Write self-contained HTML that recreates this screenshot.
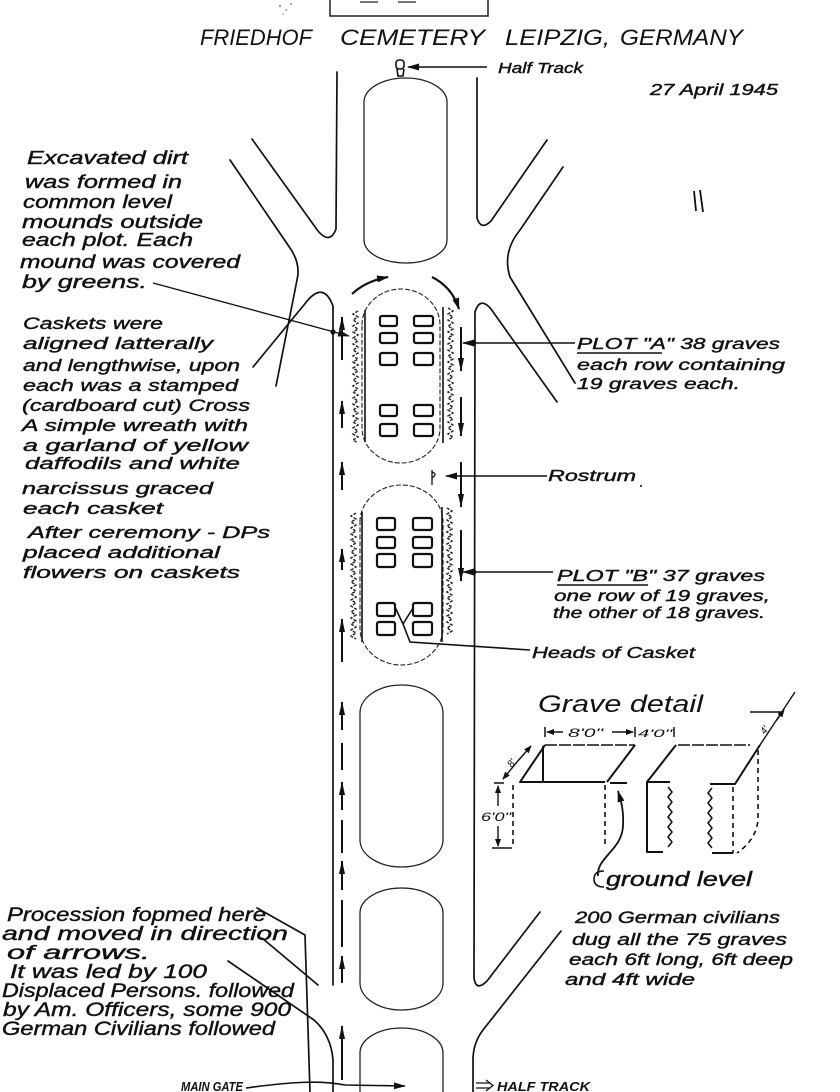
<!DOCTYPE html>
<html><head><meta charset="utf-8"><style>
html,body{margin:0;padding:0;background:#fff;}
svg{display:block;}
text{font-family:"Liberation Sans",sans-serif;font-style:italic;fill:#111;}
.w{stroke:#111;stroke-width:0.4;}
</style></head><body>
<svg xmlns="http://www.w3.org/2000/svg" width="840" height="1092" viewBox="0 0 840 1092">
<defs>
<marker id="ah" viewBox="0 0 12 8" refX="11" refY="4" markerWidth="12" markerHeight="8" markerUnits="userSpaceOnUse" orient="auto"><path d="M0,0.5 L12,4 L0,7.5 z" fill="#111"/></marker>
<marker id="an" viewBox="0 0 14 6" refX="13" refY="3" markerWidth="14" markerHeight="6" markerUnits="userSpaceOnUse" orient="auto"><path d="M0,0 L14,3 L0,6 z" fill="#111"/></marker>
<marker id="as" viewBox="0 0 8 6" refX="7" refY="3" markerWidth="8" markerHeight="6" markerUnits="userSpaceOnUse" orient="auto"><path d="M0,0 L8,3 L0,6 z" fill="#111"/></marker>
</defs>
<rect width="840" height="1092" fill="#fff"/>

<!-- top box -->
<g fill="none" stroke="#222" stroke-width="1.5">
<path d="M330 0 L330 16 L488 16 L488 0"/>
<path d="M360 2 L378 2 M398 2 L416 2" stroke-width="1.2"/>
</g>
<g fill="#999"><circle cx="280" cy="6" r="1.2"/><circle cx="286" cy="10" r="1"/><circle cx="291" cy="4" r="1"/><circle cx="283" cy="14" r="0.8"/></g>

<!-- title -->
<text x="200" y="45" font-size="22" textLength="112" lengthAdjust="spacingAndGlyphs">FRIEDHOF</text>
<text x="340" y="45" font-size="22" textLength="145" lengthAdjust="spacingAndGlyphs">CEMETERY</text>
<text x="505" y="45" font-size="22" textLength="105" lengthAdjust="spacingAndGlyphs">LEIPZIG,</text>
<text x="620" y="45" font-size="22" textLength="123" lengthAdjust="spacingAndGlyphs">GERMANY</text>

<!-- half track -->
<g fill="none" stroke="#111" stroke-width="1.6">
<rect x="396" y="60" width="8" height="9" rx="3"/>
<path d="M397 69 L398 76 L403 76 L404 69"/>
<path d="M487 67 L408 67" marker-end="url(#ah)"/>
</g>
<text class="w" x="498" y="73" font-size="15" textLength="85" lengthAdjust="spacingAndGlyphs">Half Track</text>
<text class="w" x="650" y="95" font-size="16" textLength="128" lengthAdjust="spacingAndGlyphs">27 April 1945</text>
<path d="M694 191 L696 211 M700 190 L703 212" stroke="#111" stroke-width="1.8" fill="none"/>

<!-- roads -->
<g fill="none" stroke="#111" stroke-width="1.7" stroke-linecap="round" stroke-linejoin="round">
<path d="M252 139 L318 231 Q330 245 336 229 L337 72"/>
<path d="M477 78 L477 218 Q481 231 491 221 L547 140"/>
<path d="M230 160 L290 248 Q301 264 297 280 L276 386"/>
<path d="M253 367 L308 300 Q324 282 333 306 L333 985"/>
<path d="M563 167 L520 230 Q502 252 510 277 L575 383"/>
<path d="M557 402 L491 309 Q480 296 475 312 L474 978 Q476 992 487 981 L540 912"/>
<path d="M561 931 L483 1030 Q473 1043 473 1060 L473 1092"/>
<path d="M262 938 L318 985"/>
<path d="M228 961 L314 1020 Q331 1035 333 1060 L333 1092"/>
<path d="M257 908 L305 935 L310 1092"/>
</g>

<!-- ovals -->
<g fill="none" stroke="#222" stroke-width="1.3">
<path d="M364 102 A41.5 24 0 0 1 447 102 L447 240 A41.5 23 0 0 1 364 240 Z"/>
<path d="M360 713 A41.5 28 0 0 1 443 713 L443 840 A41.5 27 0 0 1 360 840 Z"/>
<path d="M360 913 A41.5 25 0 0 1 443 913 L443 983 A41.5 27 0 0 1 360 983 Z"/>
<path d="M360 1092 L360 1053 A41.5 25 0 0 1 443 1053 L443 1092"/>
<path d="M362 325 A39 36 0 0 1 440 325 L440 428 A39 35 0 0 1 362 428 Z" stroke-dasharray="5 2" stroke-width="1.1"/>
<path d="M360 522 A41.5 37 0 0 1 443 522 L443 628 A41.5 37 0 0 1 360 628 Z" stroke-dasharray="5 2" stroke-width="1.1"/>
</g>

<!-- mounds -->
<g fill="none" stroke="#111" stroke-width="1.6">
<path d="M365 310 L365 442 M443 307 L443 443 M362 512 L362 642 M442 507 L442 642"/>
</g>
<g fill="none" stroke="#222" stroke-width="1.4" stroke-dasharray="3 1.5">
<path d="M358 311 l-5 3 5 3 -5 3 5 3 -5 3 5 3 -5 3 5 3 -5 3 5 3 -5 3 5 3 -5 3 5 3 -5 3 5 3 -5 3 5 3 -5 3 5 3 -5 3 5 3 -5 3 5 3 -5 3 5 3 -5 3 5 3 -5 3 5 3 -5 3 5 3 -5 3 5 3 -5 3 5 3 -5 3 5 3 -5 3 5 3 -5 3 5 3 -5 3 5 3"/>
<path d="M448 308 l5 3 -5 3 5 3 -5 3 5 3 -5 3 5 3 -5 3 5 3 -5 3 5 3 -5 3 5 3 -5 3 5 3 -5 3 5 3 -5 3 5 3 -5 3 5 3 -5 3 5 3 -5 3 5 3 -5 3 5 3 -5 3 5 3 -5 3 5 3 -5 3 5 3 -5 3 5 3 -5 3 5 3 -5 3 5 3 -5 3 5 3 -5 3 5 3 -5 3"/>
<path d="M356 513 l-5 3 5 3 -5 3 5 3 -5 3 5 3 -5 3 5 3 -5 3 5 3 -5 3 5 3 -5 3 5 3 -5 3 5 3 -5 3 5 3 -5 3 5 3 -5 3 5 3 -5 3 5 3 -5 3 5 3 -5 3 5 3 -5 3 5 3 -5 3 5 3 -5 3 5 3 -5 3 5 3 -5 3 5 3 -5 3 5 3 -5 3 5 3"/>
<path d="M447 508 l5 3 -5 3 5 3 -5 3 5 3 -5 3 5 3 -5 3 5 3 -5 3 5 3 -5 3 5 3 -5 3 5 3 -5 3 5 3 -5 3 5 3 -5 3 5 3 -5 3 5 3 -5 3 5 3 -5 3 5 3 -5 3 5 3 -5 3 5 3 -5 3 5 3 -5 3 5 3 -5 3 5 3 -5 3 5 3 -5 3 5 3 -5 3"/>
</g>

<!-- graves -->
<g fill="none" stroke="#111" stroke-width="2.2">
<rect x="380" y="316" width="17" height="10" rx="2"/><rect x="414" y="316" width="19" height="10" rx="2"/>
<rect x="380" y="333" width="17" height="10" rx="2"/><rect x="414" y="333" width="19" height="10" rx="2"/>
<rect x="380" y="353" width="17" height="12" rx="2"/><rect x="414" y="353" width="19" height="12" rx="2"/>
<rect x="380" y="405" width="17" height="11" rx="2"/><rect x="414" y="405" width="19" height="11" rx="2"/>
<rect x="380" y="424" width="17" height="12" rx="2"/><rect x="414" y="424" width="19" height="12" rx="2"/>
<rect x="377" y="518" width="18" height="12" rx="2"/><rect x="413" y="518" width="19" height="12" rx="2"/>
<rect x="377" y="537" width="18" height="11" rx="2"/><rect x="413" y="537" width="19" height="11" rx="2"/>
<rect x="377" y="554" width="18" height="13" rx="2"/><rect x="413" y="554" width="19" height="13" rx="2"/>
<rect x="377" y="603" width="18" height="13" rx="2"/><rect x="413" y="603" width="19" height="13" rx="2"/>
<rect x="377" y="622" width="18" height="13" rx="2"/><rect x="413" y="622" width="19" height="13" rx="2"/>
</g>

<!-- rostrum symbol -->
<g fill="none" stroke="#111" stroke-width="1.3">
<path d="M432 470 L432 485 M432 472 Q438 474 432 478"/>
</g>

<!-- curved arrows above plot A -->
<g fill="none" stroke="#111" stroke-width="2.2">
<path d="M352 294 Q366 281 388 277" marker-end="url(#ah)"/>
<path d="M432 277 Q452 287 459 309" marker-end="url(#ah)"/>
</g>

<!-- lane arrows -->
<g fill="none" stroke="#111" stroke-width="2">
<path d="M342 360 L342 317" marker-end="url(#an)"/>
<path d="M342 428 L342 401" marker-end="url(#an)"/>
<path d="M342 490 L342 462" marker-end="url(#an)"/>
<path d="M342 570 L342 549" marker-end="url(#an)"/>
<path d="M342 662 L342 619" marker-end="url(#an)"/>
<path d="M342 730 L342 702" marker-end="url(#an)"/>
<path d="M342 770 L342 743"/>
<path d="M342 810 L342 782" marker-end="url(#an)"/>
<path d="M342 853 L342 820"/>
<path d="M342 890 L342 861" marker-end="url(#an)"/>
<path d="M342 947 L342 900"/>
<path d="M342 983 L342 956" marker-end="url(#an)"/>
<path d="M342 1080 L342 1026" marker-end="url(#an)"/>
<path d="M461 327 L461 371" marker-end="url(#an)"/>
<path d="M461 397 L461 436" marker-end="url(#an)"/>
<path d="M461 462 L461 507" marker-end="url(#an)"/>
<path d="M461 530 L461 581" marker-end="url(#an)"/>
</g>

<!-- leaders -->
<g fill="none" stroke="#111" stroke-width="1.4">
<path d="M153 283 L349 336" marker-end="url(#ah)"/>
<path d="M575 343 L463 343" marker-end="url(#ah)"/>
<path d="M547 476 L446 476" marker-end="url(#ah)"/>
<path d="M553 572 L463 572" marker-end="url(#ah)"/>
<path d="M530 650 L410 642 L403 624 M403 624 L395 607 M403 624 L413 608" stroke-width="1.6"/>
<path d="M246 1088 C290 1082 320 1080 345 1085 L405 1086" stroke-width="1.6" marker-end="url(#ah)"/>
<path d="M476 1083 L490 1083 M476 1088 L490 1088 M486 1080 L493 1085.5 L486 1091" stroke-width="1.3"/>
</g>
<g fill="#111"><circle cx="333" cy="332" r="2.6"/><circle cx="474" cy="343" r="2.4"/><circle cx="474" cy="572" r="2.4"/><circle cx="641" cy="486" r="1"/></g>

<!-- left text block 1 -->
<g font-size="18" class="w">
<text class="w" x="27" y="164" textLength="161" lengthAdjust="spacingAndGlyphs">Excavated dirt</text>
<text class="w" x="25" y="188" textLength="157" lengthAdjust="spacingAndGlyphs">was formed in</text>
<text class="w" x="23" y="208" textLength="149" lengthAdjust="spacingAndGlyphs">common level</text>
<text class="w" x="22" y="228" textLength="181" lengthAdjust="spacingAndGlyphs">mounds outside</text>
<text class="w" x="22" y="246" textLength="171" lengthAdjust="spacingAndGlyphs">each plot. Each</text>
<text class="w" x="20" y="268" textLength="220" lengthAdjust="spacingAndGlyphs">mound was covered</text>
<text class="w" x="22" y="288" textLength="125" lengthAdjust="spacingAndGlyphs">by greens.</text>
</g>

<!-- left text block 2 -->
<g font-size="17">
<text class="w" x="23" y="329" textLength="140" lengthAdjust="spacingAndGlyphs">Caskets were</text>
<text class="w" x="23" y="349" textLength="190" lengthAdjust="spacingAndGlyphs">aligned latterally</text>
<text class="w" x="23" y="371" textLength="217" lengthAdjust="spacingAndGlyphs">and lengthwise, upon</text>
<text class="w" x="23" y="391" textLength="215" lengthAdjust="spacingAndGlyphs">each was a stamped</text>
<text class="w" x="22" y="411" textLength="228" lengthAdjust="spacingAndGlyphs">(cardboard cut) Cross</text>
<text class="w" x="22" y="431" textLength="226" lengthAdjust="spacingAndGlyphs">A simple wreath with</text>
<text class="w" x="23" y="451" textLength="225" lengthAdjust="spacingAndGlyphs">a garland of yellow</text>
<text class="w" x="25" y="469" textLength="215" lengthAdjust="spacingAndGlyphs">daffodils and white</text>
<text class="w" x="22" y="494" textLength="191" lengthAdjust="spacingAndGlyphs">narcissus graced</text>
<text class="w" x="23" y="514" textLength="140" lengthAdjust="spacingAndGlyphs">each casket</text>
<text class="w" x="28" y="538" textLength="242" lengthAdjust="spacingAndGlyphs">After ceremony - DPs</text>
<text class="w" x="23" y="558" textLength="197" lengthAdjust="spacingAndGlyphs">placed additional</text>
<text class="w" x="23" y="578" textLength="217" lengthAdjust="spacingAndGlyphs">flowers on caskets</text>
</g>

<!-- procession text -->
<g font-size="19">
<text class="w" x="7" y="921" textLength="259" lengthAdjust="spacingAndGlyphs">Procession fopmed here</text>
<text class="w" x="2" y="940" textLength="286" lengthAdjust="spacingAndGlyphs">and moved in direction</text>
<text class="w" x="7" y="959" textLength="143" lengthAdjust="spacingAndGlyphs">of arrows.</text>
<text class="w" x="10" y="978" textLength="197" lengthAdjust="spacingAndGlyphs">It was led by 100</text>
<text class="w" x="2" y="997" textLength="292" lengthAdjust="spacingAndGlyphs">Displaced Persons. followed</text>
<text class="w" x="3" y="1016" textLength="288" lengthAdjust="spacingAndGlyphs">by Am. Officers, some 900</text>
<text class="w" x="2" y="1035" textLength="273" lengthAdjust="spacingAndGlyphs">German Civilians followed</text>
</g>
<text x="181" y="1091" font-size="13" font-weight="bold" textLength="62" lengthAdjust="spacingAndGlyphs">MAIN GATE</text>
<text x="497" y="1091" font-size="13" font-weight="bold" textLength="93" lengthAdjust="spacingAndGlyphs">HALF TRACK</text>

<!-- right texts -->
<g font-size="16">
<text class="w" x="577" y="349" textLength="203" lengthAdjust="spacingAndGlyphs">PLOT "A" 38 graves</text>
<text class="w" x="577" y="370" textLength="208" lengthAdjust="spacingAndGlyphs">each row containing</text>
<text class="w" x="577" y="389" textLength="163" lengthAdjust="spacingAndGlyphs">19 graves each.</text>
<text class="w" x="548" y="481" textLength="88" lengthAdjust="spacingAndGlyphs">Rostrum</text>
<text class="w" x="557" y="581" textLength="208" lengthAdjust="spacingAndGlyphs">PLOT "B" 37 graves</text>
<text class="w" x="554" y="601" textLength="216" lengthAdjust="spacingAndGlyphs">one row of 19 graves,</text>
<text class="w" x="553" y="618" textLength="212" lengthAdjust="spacingAndGlyphs">the other of 18 graves.</text>
<text class="w" x="532" y="658" textLength="163" lengthAdjust="spacingAndGlyphs">Heads of Casket</text>
</g>
<path d="M577 353 L662 353 M557 585 L648 585" stroke="#111" stroke-width="1.4" fill="none"/>

<!-- grave detail -->
<text x="538" y="712" font-size="24" textLength="165" lengthAdjust="spacingAndGlyphs">Grave detail</text>
<g fill="none" stroke="#111" stroke-width="1.5">
<path d="M545 727 L545 737 M635 727 L635 737 M674 727 L674 737"/>
<path d="M563 732 L547 732" marker-end="url(#as)"/>
<path d="M612 732 L633 732" marker-end="url(#as)"/>
</g>
<text x="568" y="737" font-size="12" textLength="35" lengthAdjust="spacingAndGlyphs">8'0"</text>
<text x="638" y="737" font-size="11" textLength="34" lengthAdjust="spacingAndGlyphs">4'0"</text>
<g fill="none" stroke="#111" stroke-width="2" stroke-linejoin="round">
<path d="M545 745 L635 745" stroke-width="1.6" stroke-dasharray="12 2"/>
<path d="M545 745 L520 782 L605 782"/>
<path d="M635 745 L607 782"/>
<path d="M543 746 L543 782"/>
<path d="M610 783 L627 783"/>
<path d="M678 745 L750 745" stroke-width="1.6" stroke-dasharray="12 2"/>
<path d="M676 745 L647 782 L670 782"/>
<path d="M647 782 L647 852 L663 852"/>
<path d="M668 787 l4 5 -4 5 4 5 -4 5 4 5 -4 5 4 5 -4 5 4 5 -4 5 4 5 -4 5" stroke-width="1.5"/>
<path d="M760 745 L735 784 L710 784"/>
<path d="M712 788 l-4 5 4 5 -4 5 4 5 -4 5 4 5 -4 5 4 5 -4 5 4 5 -4 5 4 5" stroke-width="1.5"/>
<path d="M712 853 L733 853"/>
<path d="M750 712 L782 712" stroke-width="1.4"/>
</g>
<g fill="none" stroke="#111" stroke-width="1.6" stroke-dasharray="5 4">
<path d="M513 785 L513 847 M605 785 L605 847 M733 787 L733 853"/>
<path d="M758 750 L758 820 Q756 840 737 853"/>
</g>
<g fill="none" stroke="#111" stroke-width="1.4">
<path d="M494 783 L504 783 M492 848 L512 848"/>
<path d="M498 806 L498 786" marker-end="url(#as)"/>
<path d="M498 826 L498 846" marker-end="url(#as)"/>
<path d="M517 762 L531 746" marker-end="url(#as)"/>
<path d="M517 762 L503 779" marker-end="url(#as)"/>
<path d="M760 745 L795 692"/>
<path d="M776 721 L784 710" marker-end="url(#as)"/>
<path d="M598 876 C596 858 622 850 623 826 C624 808 620 798 618 791" stroke-width="1.8" marker-end="url(#ah)"/>
<path d="M604 871 Q594 871 594 879 Q594 887 604 887" stroke-width="1.6"/>
</g>
<text x="481" y="821" font-size="12" textLength="30" lengthAdjust="spacingAndGlyphs">6'0"</text>
<text x="0" y="0" font-size="10" transform="translate(512,768) rotate(-55)">8'</text>
<text x="0" y="0" font-size="10" transform="translate(765,735) rotate(-55)">4'</text>
<text class="w" x="606" y="886" font-size="20" textLength="146" lengthAdjust="spacingAndGlyphs">ground level</text>

<g font-size="16.5">
<text class="w" x="575" y="923" textLength="205" lengthAdjust="spacingAndGlyphs">200 German civilians</text>
<text class="w" x="572" y="945" textLength="215" lengthAdjust="spacingAndGlyphs">dug all the 75 graves</text>
<text class="w" x="569" y="965" textLength="224" lengthAdjust="spacingAndGlyphs">each 6ft long, 6ft deep</text>
<text class="w" x="565" y="985" textLength="130" lengthAdjust="spacingAndGlyphs">and 4ft wide</text>
</g>
</svg>
</body></html>
